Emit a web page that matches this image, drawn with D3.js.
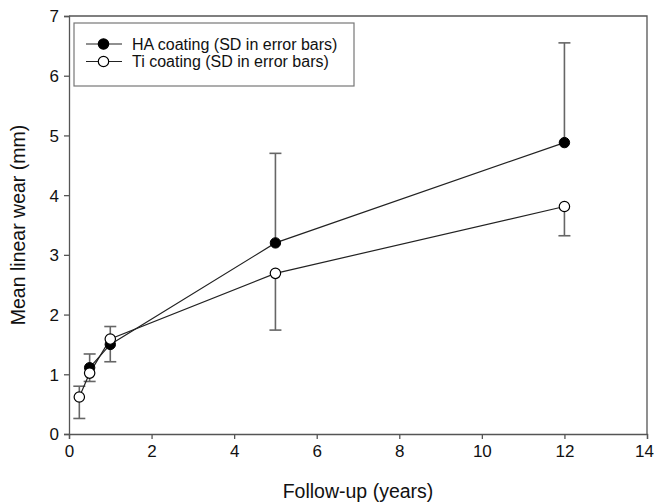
<!DOCTYPE html>
<html lang="en">

<head>
    <meta charset="UTF-8">
    <script type="text/javascript" src="https://d3js.org/d3.v7.min.js"></script>
    <title>Mean linear wear</title>

    <style>
        body {
            margin: 0;
            background: #fff;
        }

        svg text {
            font-family: "Liberation Sans", Arial, sans-serif;
            fill: #111;
        }

        .line {
            fill: none;
            stroke: #222;
            stroke-width: 1.2px;
        }

        .err {
            stroke: #666;
            stroke-width: 1.6px;
        }
    </style>
</head>

<body>
    <script>
        // Data
        var haYears = [0.5, 1, 5, 12];
        var haWear = [1.11, 1.5, 3.2, 4.88];
        var haUpper = [1.34, 1.8, 4.7, 6.55];

        var tiYears = [0.25, 0.5, 1, 5, 12];
        var tiWear = [0.62, 1.02, 1.59, 2.69, 3.81];
        var tiLower = [0.26, 0.88, 1.21, 1.74, 3.32];
        var tiUpper = [0.8, null, null, null, null];

        var xTicks = [0, 2, 4, 6, 8, 10, 12, 14];
        var yTicks = [0, 1, 2, 3, 4, 5, 6, 7];

        var legendLabels = ["HA coating (SD in error bars)", "Ti coating (SD in error bars)"];

        var margin = { top: 16, right: 7, bottom: 68, left: 69 },
            width = 654 - margin.left - margin.right,
            height = 502 - margin.top - margin.bottom;

        var x = d3.scaleLinear().domain([0, 14]).range([0, width]);
        var y = d3.scaleLinear().domain([0, 7]).range([height, 0]);

        var svg = d3.select("body")
            .append("svg")
            .attr("width", 654)
            .attr("height", 502)
            .append("g")
            .attr("transform", "translate(" + margin.left + "," + margin.top + ")");

        // frame on top and right
        svg.append("path")
            .attr("d", "M0,0H" + width + "V" + height)
            .attr("fill", "none")
            .attr("stroke", "#555")
            .attr("stroke-width", 1.3);

        // axes
        var xAxis = svg.append("g")
            .attr("transform", "translate(0," + height + ")")
            .call(d3.axisBottom(x).tickValues(xTicks).tickFormat(d3.format("d")).tickSize(5).tickPadding(6));
        var yAxis = svg.append("g")
            .call(d3.axisLeft(y).tickValues(yTicks).tickFormat(d3.format("d")).tickSize(5).tickPadding(5));

        [xAxis, yAxis].forEach(function (g) {
            g.selectAll("path, line").attr("stroke", "#555").attr("stroke-width", 1.3);
            g.selectAll("text").style("font-size", "17px").attr("fill", "#111");
        });
        yAxis.selectAll("text").attr("dy", "0.35em");
        // last x label sits on the page edge, nudge it in a little
        xAxis.selectAll("text").filter(function (d) { return d === 14; }).attr("dx", -3);

        // axis titles
        svg.append("text")
            .attr("x", width / 2)
            .attr("y", height + 64)
            .attr("text-anchor", "middle")
            .style("font-size", "19.5px")
            .text("Follow-up (years)");

        svg.append("text")
            .attr("transform", "translate(" + (-44) + "," + (height / 2) + ") rotate(-90)")
            .attr("text-anchor", "middle")
            .style("font-size", "19.5px")
            .text("Mean linear wear (mm)");

        var ha = haYears.map(function (d, i) { return { x: d, y: haWear[i], hi: haUpper[i], lo: null }; });
        var ti = tiYears.map(function (d, i) { return { x: d, y: tiWear[i], hi: tiUpper[i], lo: tiLower[i] }; });

        var valueline = d3.line()
            .x(function (d) { return x(d.x); })
            .y(function (d) { return y(d.y); });

        // error bars
        function errorBars(data) {
            data.forEach(function (d) {
                [d.hi, d.lo].forEach(function (v) {
                    if (v === null || v === undefined) return;
                    svg.append("line").attr("class", "err")
                        .attr("x1", x(d.x)).attr("x2", x(d.x))
                        .attr("y1", y(d.y)).attr("y2", y(v));
                    svg.append("line").attr("class", "err")
                        .attr("x1", x(d.x) - 6).attr("x2", x(d.x) + 6)
                        .attr("y1", y(v)).attr("y2", y(v));
                });
            });
        }
        errorBars(ha);
        errorBars(ti);

        svg.append("path").data([ha]).attr("class", "line").attr("d", valueline);
        svg.append("path").data([ti]).attr("class", "line").attr("d", valueline);

        svg.selectAll(".ha").data(ha).enter().append("circle")
            .attr("cx", function (d) { return x(d.x); })
            .attr("cy", function (d) { return y(d.y); })
            .attr("r", 5.2)
            .attr("fill", "#000")
            .attr("stroke", "#000");

        svg.selectAll(".ti").data(ti).enter().append("circle")
            .attr("cx", function (d) { return x(d.x); })
            .attr("cy", function (d) { return y(d.y); })
            .attr("r", 5.2)
            .attr("fill", "#fff")
            .attr("stroke", "#000")
            .attr("stroke-width", 1.2);

        // legend
        var legend = svg.append("g").attr("transform", "translate(5,7)");
        legend.append("rect")
            .attr("width", 280).attr("height", 63)
            .attr("fill", "#fff")
            .attr("stroke", "#777")
            .attr("stroke-width", 1.2);

        legendLabels.forEach(function (label, i) {
            var row = legend.append("g").attr("transform", "translate(0," + (21 + i * 17.5) + ")");
            row.append("line")
                .attr("x1", 12).attr("x2", 48)
                .attr("stroke", "#222").attr("stroke-width", 1.2);
            row.append("circle")
                .attr("cx", 29.5).attr("r", 5.2)
                .attr("fill", i === 0 ? "#000" : "#fff")
                .attr("stroke", "#000").attr("stroke-width", 1.2);
            row.append("text")
                .attr("x", 58).attr("dy", "0.35em")
                .style("font-size", "16px")
                .text(label);
        });
    </script>
</body>

</html>
